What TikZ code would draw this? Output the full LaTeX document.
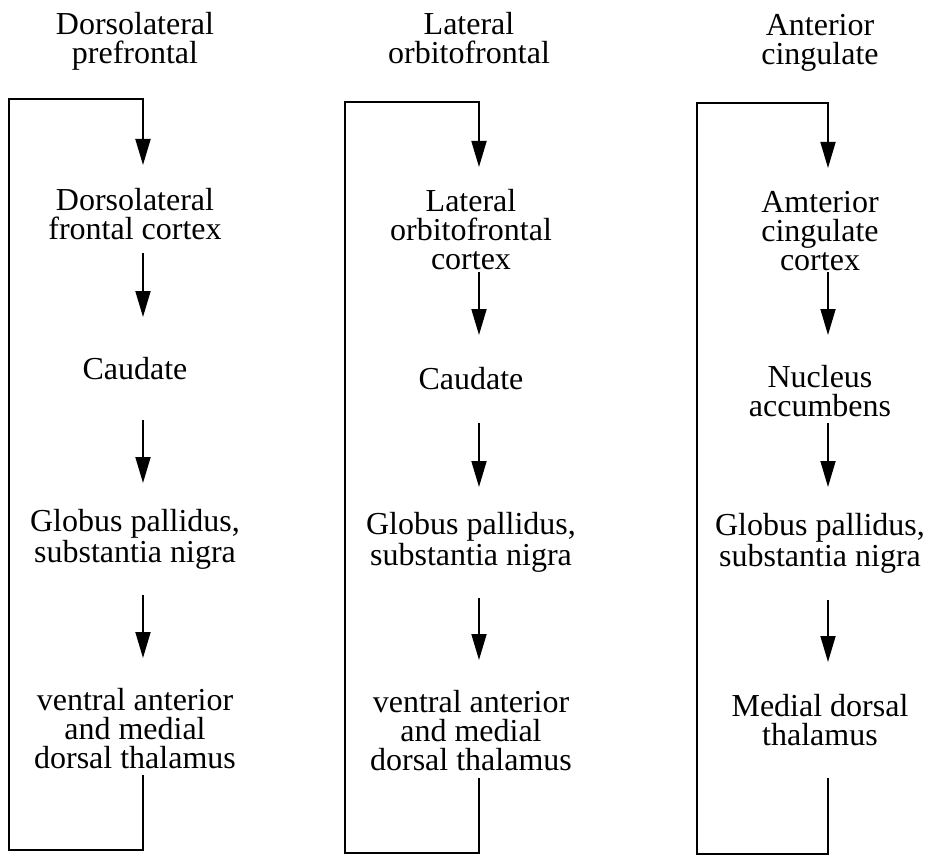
\documentclass[tikz,border=0pt]{standalone}
\usepackage{fontspec}
\setmainfont{Liberation Serif}
\usetikzlibrary{calc,arrows.meta}
\newcommand{\Off}{4pt}
\tikzset{Stage/.style={
    inner sep=0pt,
    outer sep=0pt,
    align=center,
    font=\fontsize{16}{14.5}\selectfont,
    },
    Low/.style={text height=#1}
}

\begin{document}
\begin{tikzpicture}[x=0.5pt, y=-0.5pt, line width=0.9pt,
    flow/.style={-{Triangle[length=13pt,width=7.5pt]}, line join=miter},
    ]
\useasboundingbox (0,0) rectangle (926,856);
% titles
\node [Stage] (t1) at (135,41) {Dorsolateral\\prefrontal};
\node [Stage] (t2) at (469,38) {Lateral\\orbitofrontal};
\node [Stage] (t3) at (820,43) {Anterior\\cingulate};
% column 1
\node [Stage, minimum height=44pt, Low=30.5pt] (a1) at (135,209) {Dorsolateral\\frontal cortex};
\node [Stage, minimum height=51.5pt] (b1) at (135,368.5) {Caudate};
\node [Stage, minimum height=56pt] (c1) at (135,539) {Globus pallidus,\\substantia nigra};
\node [Stage, minimum height=58.5pt, Low=52pt] (d1) at (135,716.5) {ventral anterior\\and medial\\dorsal thalamus};
\coordinate (top1) at (9,99);
\coordinate (bot1) at (9,850);
% column 2
\node [Stage, minimum height=52.5pt, Low=50pt] (a2) at (471,219.5) {Lateral\\orbitofrontal\\cortex};
\node [Stage, minimum height=44pt] (b2) at (471,379) {Caudate};
\node [Stage, minimum height=55.5pt] (c2) at (471,542.5) {Globus pallidus,\\substantia nigra};
\node [Stage, minimum height=59pt, Low=52pt] (d2) at (471,719) {ventral anterior\\and medial\\dorsal thalamus};
\coordinate (top2) at (345,102);
\coordinate (bot2) at (345,853);
% column 3
\node [Stage, minimum height=52pt, Low=51pt] (a3) at (820,220) {Amterior\\cingulate\\cortex};
\node [Stage, minimum height=44pt, Low=37.5pt] (b3) at (820,379) {Nucleus\\accumbens};
\node [Stage, minimum height=56.5pt] (c3) at (820,543.5) {Globus pallidus,\\substantia nigra};
\node [Stage, minimum height=58pt] (d3) at (820,720) {Medial dorsal\\thalamus};
\coordinate (top3) at (697,103);
\coordinate (bot3) at (697,854);
% arrows
\foreach \c in {1,2,3}{
  \draw [flow] ([xshift=\Off]a\c.south) -- ([xshift=\Off]b\c.north);
  \draw [flow] ([xshift=\Off]b\c.south) -- ([xshift=\Off]c\c.north);
  \draw [flow] ([xshift=\Off]c\c.south) -- ([xshift=\Off]d\c.north);
  \draw [flow] ([xshift=\Off]d\c.south) |- (bot\c) -- (top\c) -| ([xshift=\Off]a\c.north);
}
\end{tikzpicture}
\end{document}
